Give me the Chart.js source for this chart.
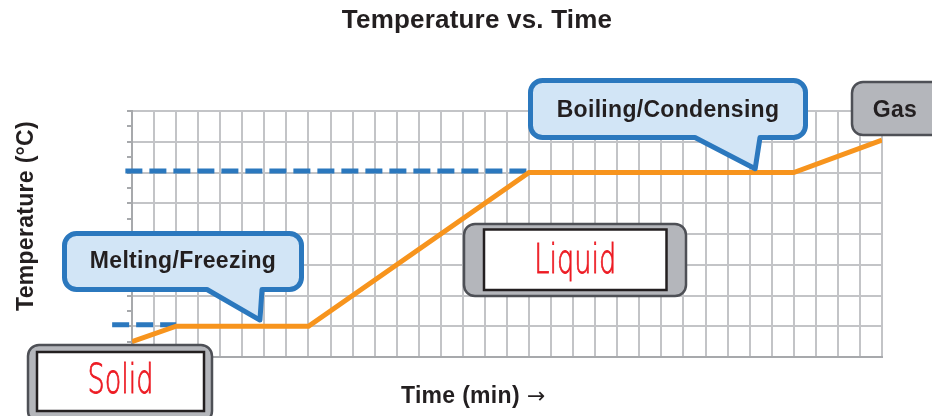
<!DOCTYPE html>
<html>
<head>
<meta charset="utf-8">
<title>Temperature vs. Time</title>
<script src="https://cdn.jsdelivr.net/npm/chart.js@4.4.1/dist/chart.umd.min.js"></script>
<style>
  html, body { margin: 0; padding: 0; background: #fff; }
  #wrap { width: 932px; height: 416px; position: relative; }
</style>
</head>
<body>
<div id="wrap"><canvas id="chart"></canvas></div>
<script>
// heating curve (grid units: 1 column = 1 min, 1 row = 1 step of temperature)
const timeMin = [0, 2, 8, 18, 30, 34];
const tempC = [0.5, 1, 1, 6, 6, 7.05];

// dashed reference lines for melting and boiling points
const meltRefTime = [-0.9, 2];
const meltRefTemp = [1.05, 1.05];
const boilRefTime = [-0.3, 18];
const boilRefTemp = [6.05, 6.05];

const titleText = 'Temperature vs. Time';
const xTitle = 'Time (min)';
const yTitle = 'Temperature (°C)';
const phaseLabels = ['Solid', 'Liquid', 'Gas'];
const changeLabels = ['Melting/Freezing', 'Boiling/Condensing'];

const BLUE = '#2b78be';
const BLUE_FILL = '#d2e5f6';
const ORANGE = '#f7941d';
const GREY = '#b4b6bb';
const GREY_EDGE = '#4e5056';
const INK = '#231f20';
const RED = '#ed1c24';
const GRID = '#c3c4c7';
const BOLD = 'bold 23px "Liberation Sans", Arial, sans-serif';

const toPoints = (xs, ys) => xs.map((x, i) => ({ x, y: ys[i] }));

function roundRect(ctx, x0, y0, x1, y1, r) {
  ctx.beginPath();
  ctx.moveTo(x0 + r, y0);
  ctx.lineTo(x1 - r, y0);
  ctx.arcTo(x1, y0, x1, y0 + r, r);
  ctx.lineTo(x1, y1 - r);
  ctx.arcTo(x1, y1, x1 - r, y1, r);
  ctx.lineTo(x0 + r, y1);
  ctx.arcTo(x0, y1, x0, y1 - r, r);
  ctx.lineTo(x0, y0 + r);
  ctx.arcTo(x0, y0, x0 + r, y0, r);
  ctx.closePath();
}

function boldText(ctx, text, x, y, rotate) {
  ctx.save();
  ctx.font = BOLD;
  ctx.letterSpacing = '0.3px';
  ctx.fillStyle = INK;
  ctx.textAlign = 'center';
  ctx.textBaseline = 'alphabetic';
  ctx.translate(x, y);
  if (rotate) ctx.rotate(-Math.PI / 2);
  ctx.fillText(text, 0, 0);
  ctx.restore();
}

// speech bubble with the pointer on its bottom edge
function callout(ctx, b, tip, text, baseline) {
  const r = 12;
  ctx.save();
  ctx.beginPath();
  ctx.moveTo(b.x0 + r, b.y0);
  ctx.lineTo(b.x1 - r, b.y0);
  ctx.arcTo(b.x1, b.y0, b.x1, b.y0 + r, r);
  ctx.lineTo(b.x1, b.y1 - r);
  ctx.arcTo(b.x1, b.y1, b.x1 - r, b.y1, r);
  ctx.lineTo(b.p1, b.y1);
  ctx.lineTo(tip.x, tip.y);
  ctx.lineTo(b.p0, b.y1);
  ctx.lineTo(b.x0 + r, b.y1);
  ctx.arcTo(b.x0, b.y1, b.x0, b.y1 - r, r);
  ctx.lineTo(b.x0, b.y0 + r);
  ctx.arcTo(b.x0, b.y0, b.x0 + r, b.y0, r);
  ctx.closePath();
  ctx.fillStyle = BLUE_FILL;
  ctx.fill();
  ctx.lineWidth = 5;
  ctx.lineJoin = 'round';
  ctx.strokeStyle = BLUE;
  ctx.stroke();
  ctx.restore();
  boldText(ctx, text, (b.x0 + b.x1) / 2, baseline);
}

// grey frame with a white label card inside
function phaseBox(ctx, o, inner, text, baseline, textWidth) {
  ctx.save();
  roundRect(ctx, o.x0, o.y0, o.x1, o.y1, 11);
  ctx.fillStyle = GREY;
  ctx.fill();
  ctx.lineWidth = 2.5;
  ctx.strokeStyle = GREY_EDGE;
  ctx.stroke();
  if (inner) {
    ctx.fillStyle = '#fff';
    ctx.fillRect(inner.x0, inner.y0, inner.x1 - inner.x0, inner.y1 - inner.y0);
    ctx.strokeStyle = INK;
    ctx.strokeRect(inner.x0, inner.y0, inner.x1 - inner.x0, inner.y1 - inner.y0);
    ctx.font = '200 40px "DejaVu Sans", sans-serif';
    const w = ctx.measureText(text).width;
    ctx.translate((inner.x0 + inner.x1) / 2, baseline);
    ctx.scale(textWidth / w, 1);
    ctx.fillStyle = RED;
    ctx.strokeStyle = RED;
    ctx.lineWidth = 0.9;
    ctx.textAlign = 'center';
    ctx.fillText(text, 0, 0);
    ctx.strokeText(text, 0, 0);
  }
  ctx.restore();
  if (!inner) boldText(ctx, text, 895, baseline);
}

const annotations = {
  id: 'annotations',
  afterDatasetsDraw(chart) {
    const ctx = chart.ctx;
    const xs = chart.scales.x;
    const ys = chart.scales.y;
    const at = (x, y) => ({ x: xs.getPixelForValue(x), y: ys.getPixelForValue(y) });

    callout(ctx, { x0: 64.5, y0: 233.5, x1: 301.5, y1: 289.5, p0: 207, p1: 262 },
      at(5.8, 1.2), changeLabels[0], 268);
    callout(ctx, { x0: 530.5, y0: 80.5, x1: 805.5, y1: 137.5, p0: 695, p1: 760 },
      at(28.25, 6.12), changeLabels[1], 117);

    phaseBox(ctx, { x0: 28, y0: 345, x1: 212, y1: 422 },
      { x0: 37, y0: 352, x1: 204, y1: 411 }, phaseLabels[0], 393, 66);
    phaseBox(ctx, { x0: 464, y0: 224, x1: 686, y1: 296 },
      { x0: 484, y0: 229.5, x1: 666.5, y1: 290 }, phaseLabels[1], 272.5, 82);
    phaseBox(ctx, { x0: 852, y0: 82, x1: 945, y1: 135 }, null, phaseLabels[2], 117);

    // titles
    ctx.save();
    ctx.font = 'bold 26px "Liberation Sans", Arial, sans-serif';
    ctx.letterSpacing = '0.2px';
    ctx.fillStyle = INK;
    ctx.textAlign = 'center';
    ctx.fillText(titleText, 477, 28);
    ctx.restore();
    boldText(ctx, yTitle, 33, 216, true);
    ctx.save();
    ctx.font = BOLD;
    ctx.letterSpacing = '0.3px';
    ctx.fillStyle = INK;
    ctx.textAlign = 'left';
    ctx.fillText(xTitle, 401, 403);
    ctx.font = '22px "DejaVu Sans", sans-serif';
    ctx.letterSpacing = '0px';
    ctx.fillText('\u2192', 527, 403);
    ctx.restore();
  }
};

new Chart(document.getElementById('chart'), {
  type: 'line',
  data: {
    datasets: [
      {
        data: toPoints(timeMin, tempC),
        borderColor: ORANGE,
        borderWidth: 5,
        pointRadius: 0,
        tension: 0,
        fill: false,
        order: 0,
      },
      {
        data: toPoints(meltRefTime, meltRefTemp),
        borderColor: BLUE,
        borderWidth: 5,
        borderDash: [17, 7],
        pointRadius: 0,
        clip: false,
        order: 1,
      },
      {
        data: toPoints(boilRefTime, boilRefTemp),
        borderColor: BLUE,
        borderWidth: 5,
        borderDash: [17, 7],
        pointRadius: 0,
        clip: false,
        order: 1,
      },
    ],
  },
  options: {
    responsive: true,
    maintainAspectRatio: false,
    animation: false,
    layout: { padding: { left: 127, right: 50, top: 111, bottom: 59 } },
    plugins: {
      legend: { display: false },
      title: { display: false },
      tooltip: { enabled: false },
    },
    scales: {
      x: {
        type: 'linear',
        min: 0,
        max: 34,
        ticks: { display: false, stepSize: 1 },
        grid: { color: GRID, lineWidth: 2, drawTicks: false },
        border: { color: '#a7a9ac', width: 2 },
      },
      y: {
        type: 'linear',
        min: 0,
        max: 8,
        ticks: { display: false, stepSize: 0.5 },
        grid: {
          color: (c) => (Number.isInteger(c.tick.value) ? GRID : 'rgba(0,0,0,0)'),
          tickColor: '#a7a9ac',
          lineWidth: 2,
          drawTicks: true,
          tickLength: 5,
        },
        border: { color: '#a7a9ac', width: 2 },
      },
    },
  },
  plugins: [annotations],
});
</script>
</body>
</html>
